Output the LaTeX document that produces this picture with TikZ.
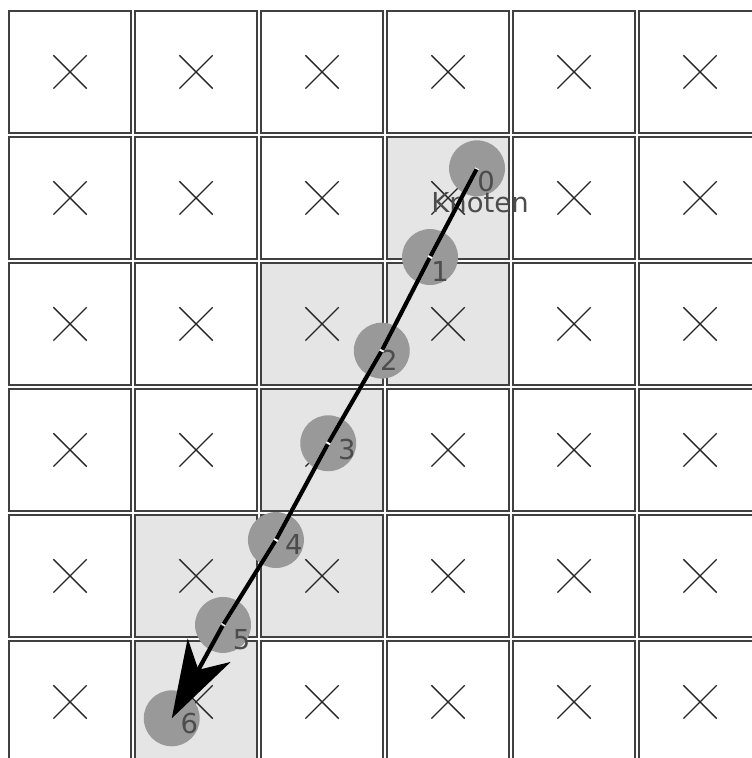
\documentclass[tikz,border=0pt]{standalone}
\usepackage{fontspec}
\setsansfont{DejaVu Sans}
\usetikzlibrary{arrows.meta,shapes.misc}

\begin{document}
\begin{tikzpicture}[>={Stealth[length=17.5pt,width=11pt,inset=5pt]},
  cell/.style={draw=black!75,line width=0.4pt,minimum size=0.966cm,inner sep=0pt},
  xmark/.style={cross out,draw=black!85,line width=0.3pt,minimum size=0.254cm,inner sep=0pt},
  knot/.style={circle,fill=black!40,minimum size=0.444cm,inner sep=0pt},
  num/.style={text=black!70,font=\sffamily\fontsize{6.2}{7}\selectfont,inner sep=0pt},
  link/.style={line width=0.95pt,shorten <=0.25pt,shorten >=0.25pt}]
\useasboundingbox (0,0) rectangle (5.968,-6.016);
% grid of cells
\foreach \i in {0,...,5}{\foreach \j in {0,...,5}{
  \node[cell] (c\i\j) at (0.556+\i,-0.571-\j) {};}}
\foreach \i/\j in {3/1,2/2,3/2,2/3,1/4,2/4,1/5}
  \node[cell,fill=black!10] (s\i\j) at (c\i\j) {};
\foreach \i in {0,...,5}{\foreach \j in {0,...,5}{
  \node[xmark] (x\i\j) at (c\i\j) {};}}
% path of knots
\node[knot] (k0) at (3.786,-1.336) {};
\node[knot] (k1) at (3.413,-2.040) {};
\node[knot] (k2) at (3.030,-2.783) {};
\node[knot] (k3) at (2.605,-3.518) {};
\node[knot] (k4) at (2.190,-4.286) {};
\node[knot] (k5) at (1.770,-4.960) {};
\node[knot] (k6) at (1.363,-5.701) {};
\node[num] (n0) at (3.857,-1.442) {0};
\node[num] (n1) at (3.492,-2.151) {1};
\node[num] (n2) at (3.087,-2.857) {2};
\node[num] (n3) at (2.752,-3.571) {3};
\node[num] (n4) at (2.333,-4.325) {4};
\node[num] (n5) at (1.918,-5.074) {5};
\node[num] (n6) at (1.502,-5.740) {6};
\node[num] (kn) at (3.810,-1.611) {Knoten};
\draw[white,line width=0.95pt] (k0.center) -- (k1.center) -- (k2.center) -- (k3.center)
  -- (k4.center) -- (k5.center);
\foreach \a/\b in {0/1,1/2,2/3,3/4,4/5}
  \draw[link] (k\a.center) -- (k\b.center);
\draw[link,->,shorten >=0pt] (k5.center) -- (k6.center);
\end{tikzpicture}
\end{document}
